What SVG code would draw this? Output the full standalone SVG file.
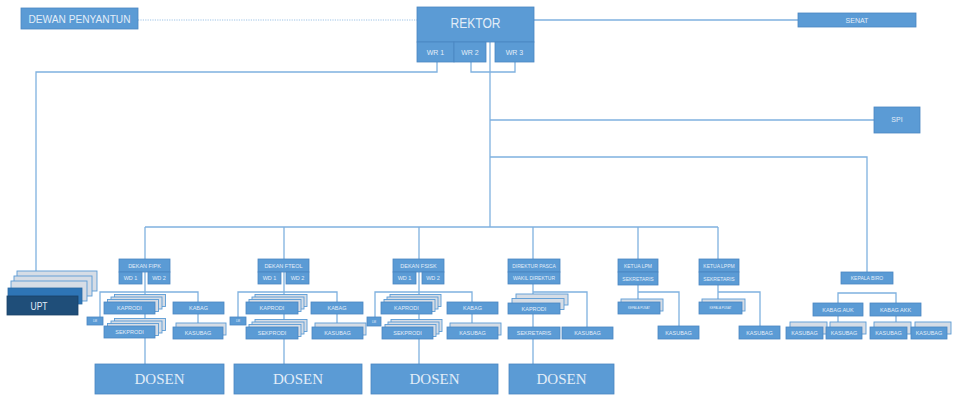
<svg xmlns="http://www.w3.org/2000/svg" width="954" height="395" viewBox="0 0 954 395">
<style>
.box{fill:#5B9BD5;stroke:#4a86c0;stroke-width:0.8}
.dark{fill:#1F4E79;stroke:#1a4268;stroke-width:0.8}
.mid{fill:#2E75B6;stroke:#2a69a4;stroke-width:0.8}
.layer{fill:#d6dde6;stroke:#5B9BD5;stroke-width:0.9}
.t{font-family:"Liberation Sans",Arial,sans-serif;fill:#e2edf8;text-anchor:middle;dominant-baseline:central}
.f4{font-size:3px}.f5{font-size:5px}.f55{font-size:5.5px}.f7{font-size:7px}.f8{font-size:8px}
.ds{font-family:"Liberation Serif","Times New Roman",serif;font-size:15px;fill:#e2edf8;text-anchor:middle;dominant-baseline:central}
.ln{stroke:#7fb1df;stroke-width:1.3;fill:none}
.dot{stroke:#9dc3e6;stroke-width:1.2;fill:none;stroke-dasharray:1.2 1.2}
</style>
<rect width="954" height="395" fill="#ffffff"/>
<g id="connectors">
<line class="dot" x1="138" y1="20" x2="417" y2="20"/>
<line class="ln" x1="534" y1="20" x2="798" y2="20"/>
<polyline class="ln" points="437,62 437,72 36,72 36,273"/>
<polyline class="ln" points="471,62 471,72 515,72 515,62"/>
<line class="ln" x1="490" y1="42" x2="490" y2="227"/>
<line class="ln" x1="490" y1="120" x2="874" y2="120"/>
<polyline class="ln" points="490,157 867,157 867,272"/>
<line class="ln" x1="145" y1="227" x2="718" y2="227"/>
<line class="ln" x1="145" y1="227" x2="145" y2="364"/>
<line class="ln" x1="284" y1="227" x2="284" y2="364"/>
<line class="ln" x1="419" y1="227" x2="419" y2="364"/>
<line class="ln" x1="533" y1="227" x2="533" y2="364"/>
<line class="ln" x1="638" y1="227" x2="638" y2="302"/>
<line class="ln" x1="718" y1="227" x2="718" y2="302"/>
<polyline class="ln" points="100,317 100,292 198,292 198,327"/>
<polyline class="ln" points="238,317 238,292 337,292 337,327"/>
<polyline class="ln" points="375,317 375,292 472,292 472,327"/>
<polyline class="ln" points="533,292 587,292 587,327"/>
<polyline class="ln" points="638,292 679,292 679,326"/>
<polyline class="ln" points="718,292 760,292 760,326"/>
<polyline class="ln" points="838,303 838,293 896,293 896,303"/>
<line class="ln" x1="838" y1="316" x2="838" y2="322"/>
<line class="ln" x1="896" y1="316" x2="896" y2="322"/>
</g>
<g id="dewan"><rect class="box" x="21" y="8" width="117" height="21"/><text class="t" x="79.5" y="18.5" font-size="11" textLength="102" lengthAdjust="spacingAndGlyphs">DEWAN PENYANTUN</text></g>
<g id="rektor">
<rect class="box" x="417" y="7" width="117" height="35"/><text class="t" x="475.5" y="22" font-size="15" textLength="50" lengthAdjust="spacingAndGlyphs">REKTOR</text>
<rect class="box" x="417" y="42" width="37" height="20"/><text class="t f7" x="435.5" y="52">WR 1</text>
<rect class="box" x="454" y="42" width="32" height="20"/><text class="t f7" x="470" y="52">WR 2</text>
<rect class="box" x="495" y="42" width="39" height="20"/><text class="t f7" x="514.5" y="52">WR 3</text>
</g>
<g id="senat"><rect class="box" x="798" y="13" width="118" height="14"/><text class="t f7" x="857" y="20.5">SENAT</text></g>
<g id="spi"><rect class="box" x="874" y="107" width="46" height="26"/><text class="t f7" x="897" y="119">SPI</text></g>
<g id="upt">
<rect class="layer" x="17" y="271" width="80" height="20"/>
<rect class="layer" x="14" y="276" width="78" height="20"/>
<rect class="layer" x="11" y="281" width="76" height="20"/>
<rect class="mid" x="8" y="288" width="74" height="16"/>
<rect class="dark" x="7" y="296" width="71" height="19"/><text class="t" x="39" y="306" font-size="11" textLength="17" lengthAdjust="spacingAndGlyphs">UPT</text>
</g>
<g id="fipk">
<rect class="box" x="119" y="259" width="51" height="13"/><text class="t f55" x="144.5" y="265.5">DEKAN FIPK</text>
<rect class="box" x="119" y="272" width="23" height="12"/><text class="t f55" x="130.5" y="278">WD 1</text>
<rect class="box" x="148" y="272" width="22" height="12"/><text class="t f55" x="159" y="278">WD 2</text>
<rect class="layer" x="114.5" y="294.5" width="51" height="12"/><rect class="layer" x="111" y="297" width="51" height="12"/><rect class="layer" x="107.5" y="299.5" width="51" height="12"/>
<rect class="box" x="104" y="302" width="51" height="12"/><text class="t f55" x="129.5" y="308">KAPRODI</text>
<rect class="box" x="173" y="302" width="51" height="12"/><text class="t f55" x="198.5" y="308">KABAG</text>
<rect class="box" x="87" y="317" width="16" height="8"/><text class="t f4" x="95" y="321">LM</text>
<rect class="layer" x="114.5" y="318.5" width="51" height="12"/><rect class="layer" x="111" y="321" width="51" height="12"/><rect class="layer" x="107.5" y="323.5" width="51" height="12"/>
<rect class="box" x="104" y="326" width="51" height="12"/><text class="t f55" x="129.5" y="332">SEKPRODI</text>
<rect class="layer" x="176" y="323" width="50" height="12"/>
<rect class="box" x="173" y="327" width="50" height="12"/><text class="t f55" x="198" y="333">KASUBAG</text>
</g>
<g id="fteol">
<rect class="box" x="258" y="259" width="51" height="13"/><text class="t f55" x="283.5" y="265.5">DEKAN FTEOL</text>
<rect class="box" x="258" y="272" width="23" height="12"/><text class="t f55" x="269.5" y="278">WD 1</text>
<rect class="box" x="286" y="272" width="23" height="12"/><text class="t f55" x="297.5" y="278">WD 2</text>
<rect class="layer" x="255" y="294.5" width="52" height="12"/><rect class="layer" x="252" y="297" width="52" height="12"/><rect class="layer" x="249" y="299.5" width="52" height="12"/>
<rect class="box" x="246" y="302" width="52" height="12"/><text class="t f55" x="272" y="308">KAPRODI</text>
<rect class="box" x="311" y="302" width="52" height="12"/><text class="t f55" x="337" y="308">KABAG</text>
<rect class="box" x="230" y="317" width="16" height="8"/><text class="t f4" x="238" y="321">LM</text>
<rect class="layer" x="255" y="319.5" width="52" height="12"/><rect class="layer" x="252" y="322" width="52" height="12"/><rect class="layer" x="249" y="324.5" width="52" height="12"/>
<rect class="box" x="246" y="327" width="52" height="12"/><text class="t f55" x="272" y="333">SEKPRODI</text>
<rect class="layer" x="315" y="323" width="51" height="12"/>
<rect class="box" x="312" y="327" width="51" height="12"/><text class="t f55" x="337.5" y="333">KASUBAG</text>
</g>
<g id="fsisk">
<rect class="box" x="393" y="259" width="51" height="13"/><text class="t f55" x="418.5" y="265.5">DEKAN FSISK</text>
<rect class="box" x="393" y="272" width="23" height="12"/><text class="t f55" x="404.5" y="278">WD 1</text>
<rect class="box" x="422" y="272" width="22" height="12"/><text class="t f55" x="433" y="278">WD 2</text>
<rect class="layer" x="390" y="294.5" width="51" height="12"/><rect class="layer" x="387" y="297" width="51" height="12"/><rect class="layer" x="384" y="299.5" width="51" height="12"/>
<rect class="box" x="381" y="302" width="51" height="12"/><text class="t f55" x="406.5" y="308">KAPRODI</text>
<rect class="box" x="447" y="302" width="51" height="12"/><text class="t f55" x="472.5" y="308">KABAG</text>
<rect class="box" x="367" y="317" width="14" height="9"/><text class="t f4" x="374" y="321.5">LM</text>
<rect class="layer" x="391" y="319.5" width="51" height="12"/><rect class="layer" x="388" y="322" width="51" height="12"/><rect class="layer" x="385" y="324.5" width="51" height="12"/>
<rect class="box" x="382" y="327" width="51" height="12"/><text class="t f55" x="407.5" y="333">SEKPRODI</text>
<rect class="layer" x="450" y="323" width="51" height="12"/>
<rect class="box" x="447" y="327" width="51" height="12"/><text class="t f55" x="472.5" y="333">KASUBAG</text>
</g>
<g id="pasca">
<rect class="box" x="508" y="259" width="52" height="13"/><text class="t f5" x="534" y="265.5">DIREKTUR PASCA</text>
<rect class="box" x="508" y="272" width="52" height="12"/><text class="t f5" x="534" y="278">WAKIL DIREKTUR</text>
<rect class="layer" x="516" y="294" width="52" height="11"/><rect class="layer" x="512" y="298.5" width="52" height="11"/>
<rect class="box" x="508" y="303" width="52" height="11"/><text class="t f55" x="534" y="308.5">KAPRODI</text>
<rect class="box" x="508" y="327" width="52" height="12"/><text class="t f55" x="534" y="333">SEKRETARIS</text>
<rect class="box" x="562" y="327" width="51" height="12"/><text class="t f55" x="587.5" y="333">KASUBAG</text>
</g>
<g id="lpm">
<rect class="box" x="618" y="259" width="40" height="13"/><text class="t f5" x="638" y="265.5">KETUA LPM</text>
<rect class="box" x="618" y="272" width="40" height="13"/><text class="t f5" x="638" y="278.5">SEKRETARIS</text>
<rect class="layer" x="621" y="299" width="42" height="12"/>
<rect class="box" x="618" y="302" width="42" height="12"/><text class="t f4" x="639" y="308">KEPALA PUSAT</text>
<rect class="box" x="658" y="326" width="41" height="13"/><text class="t f55" x="678.5" y="332.5">KASUBAG</text>
</g>
<g id="lppm">
<rect class="box" x="699" y="259" width="40" height="13"/><text class="t f5" x="719" y="265.5">KETUA LPPM</text>
<rect class="box" x="699" y="272" width="40" height="13"/><text class="t f5" x="719" y="278.5">SEKRETARIS</text>
<rect class="layer" x="702" y="299" width="43" height="12"/>
<rect class="box" x="699" y="302" width="43" height="12"/><text class="t f4" x="720.5" y="308">KEPALA PUSAT</text>
<rect class="box" x="739" y="326" width="41" height="13"/><text class="t f55" x="759.5" y="332.5">KASUBAG</text>
</g>
<g id="biro">
<rect class="box" x="841" y="272" width="52" height="12"/><text class="t f5" x="867" y="278">KEPALA BIRO</text>
<rect class="box" x="813" y="303" width="50" height="13"/><text class="t f55" x="838" y="309.5">KABAG AUK</text>
<rect class="box" x="870" y="303" width="51" height="13"/><text class="t f55" x="895.5" y="309.5">KABAG AKK</text>
<rect class="layer" x="790" y="322" width="37" height="12"/><rect class="box" x="786" y="327" width="37" height="12"/><text class="t f55" x="804.5" y="333">KASUBAG</text>
<rect class="layer" x="830" y="322" width="36" height="12"/><rect class="box" x="826" y="327" width="36" height="12"/><text class="t f55" x="844" y="333">KASUBAG</text>
<rect class="layer" x="874" y="322" width="37" height="12"/><rect class="box" x="870" y="327" width="37" height="12"/><text class="t f55" x="888.5" y="333">KASUBAG</text>
<rect class="layer" x="915" y="322" width="36" height="12"/><rect class="box" x="911" y="327" width="36" height="12"/><text class="t f55" x="929" y="333">KASUBAG</text>
</g>
<g id="dosen1"><rect class="box" x="95" y="364" width="129" height="30"/><text class="ds" x="159.5" y="379">DOSEN</text></g>
<g id="dosen2"><rect class="box" x="234" y="364" width="128" height="30"/><text class="ds" x="298" y="379">DOSEN</text></g>
<g id="dosen3"><rect class="box" x="371" y="364" width="127" height="30"/><text class="ds" x="434.5" y="379">DOSEN</text></g>
<g id="dosen4"><rect class="box" x="509" y="364" width="105" height="30"/><text class="ds" x="561.5" y="379">DOSEN</text></g>
</svg>
